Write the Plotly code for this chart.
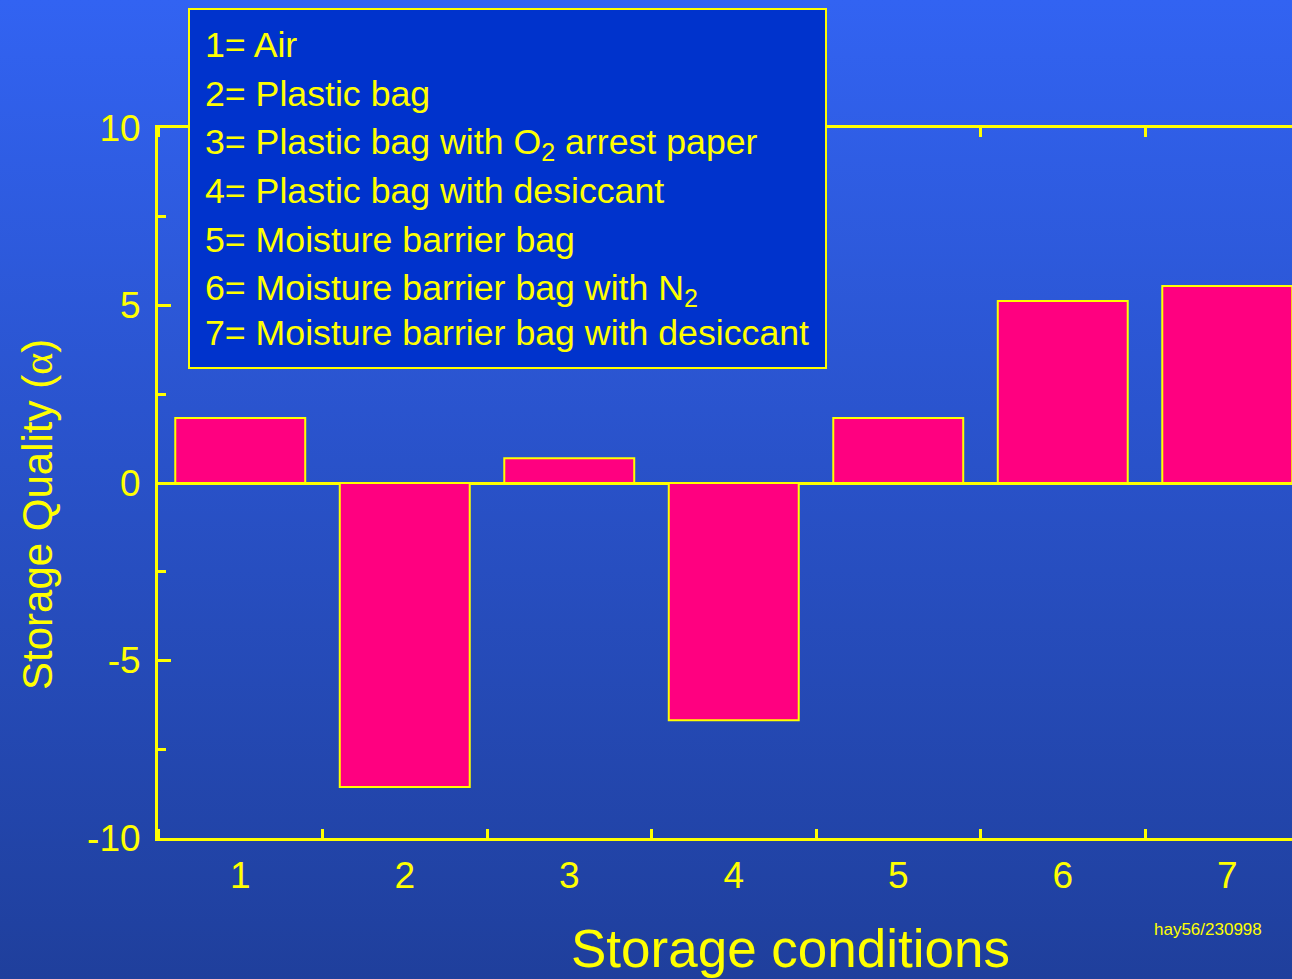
import base64
import plotly.graph_objects as go

# Storage quality index for each storage condition
conditions = [1, 2, 3, 4, 5, 6, 7]
tick_labels = ["1", "2", "3", "4", "5", "6", "7"]
quality = [1.83, -8.56, 0.70, -6.68, 1.83, 5.13, 5.55]

y_tick_values = [-10, -5, 0, 5, 10]
y_tick_labels = ["-10", "-5", "0", "5", "10"]

key_lines = [
    "1= Air",
    "2= Plastic bag",
    "3= Plastic bag with O<sub>2</sub> arrest paper",
    "4= Plastic bag with desiccant",
    "5= Moisture barrier bag",
    "6= Moisture barrier bag with N<sub>2</sub>",
    "7= Moisture barrier bag with desiccant",
]

YELLOW = "#FFFF00"
PINK = "#FF0080"
KEY_BG = "#0033CC"
FONT = "Liberation Sans, Arial, sans-serif"

W, H = 1292, 979
ML, MR, MT, MB = 158, 0, 128, 141
PW, PH = W - ML - MR, H - MT - MB
CAT_PX = 164.5  # pixel width of one category slot


def px_x(px):
    return (px - ML) / PW


def px_y(py):
    return 1 - (py - MT) / PH


# vertical background gradient as an svg image
svg = (
    '<svg xmlns="http://www.w3.org/2000/svg" width="100" height="100" preserveAspectRatio="none">'
    '<defs><linearGradient id="g" x1="0" y1="0" x2="0" y2="1">'
    '<stop offset="0" stop-color="#3263F2"/>'
    '<stop offset="1" stop-color="#1F3F9C"/>'
    '</linearGradient></defs>'
    '<rect width="100" height="100" fill="url(#g)"/></svg>'
)
bg_uri = "data:image/svg+xml;base64," + base64.b64encode(svg.encode()).decode()

fig = go.Figure()
fig.add_trace(go.Bar(
    x=conditions,
    y=quality,
    width=0.79,
    marker=dict(color=PINK, line=dict(color=YELLOW, width=2)),
    hoverinfo="x+y",
))

fig.update_layout(
    width=W,
    height=H,
    margin=dict(l=ML, r=MR, t=MT, b=MB, pad=0),
    paper_bgcolor="#2A52C8",
    plot_bgcolor="rgba(0,0,0,0)",
    showlegend=False,
    font=dict(family=FONT, color=YELLOW),
    images=[dict(
        source=bg_uri,
        xref="paper", yref="paper",
        x=px_x(0), y=px_y(0),
        sizex=W / PW, sizey=H / PH,
        xanchor="left", yanchor="top",
        sizing="stretch", layer="below",
    )],
    # key box, drawn above the top frame line
    shapes=[dict(
        type="rect",
        xref="paper", yref="paper",
        x0=px_x(189), x1=px_x(826),
        y0=px_y(368), y1=px_y(9),
        fillcolor=KEY_BG,
        line=dict(color=YELLOW, width=2),
        layer="above",
    )],
)

fig.update_xaxes(
    range=[0.5, 0.5 + PW / CAT_PX],
    tickvals=conditions,
    ticktext=tick_labels,
    ticks="",
    tickfont=dict(size=37, color=YELLOW, family=FONT),
    ticklabelstandoff=3,
    showline=True,
    linecolor=YELLOW,
    linewidth=3,
    mirror="ticks",
    showgrid=False,
    zeroline=False,
    minor=dict(tick0=0.5, dtick=1, ticks="inside", ticklen=9,
               tickwidth=3, tickcolor=YELLOW, showgrid=False),
)

fig.update_yaxes(
    range=[-10, 10],
    tickvals=y_tick_values,
    ticktext=y_tick_labels,
    ticks="inside",
    ticklen=13,
    tickwidth=3,
    tickcolor=YELLOW,
    tickfont=dict(size=37, color=YELLOW, family=FONT),
    ticklabelstandoff=7,
    showline=True,
    linecolor=YELLOW,
    linewidth=3,
    mirror=False,
    showgrid=False,
    zeroline=True,
    zerolinecolor=YELLOW,
    zerolinewidth=3,
    minor=dict(dtick=2.5, ticks="inside", ticklen=8, tickwidth=3,
               tickcolor=YELLOW, showgrid=False),
)

annotations = []

key_rows_px = [45, 94, 144, 191, 240, 290, 333]
for line, row in zip(key_lines, key_rows_px):
    annotations.append(dict(
        text=line,
        xref="paper", yref="paper",
        x=px_x(203), y=px_y(row),
        xanchor="left", yanchor="middle",
        font=dict(size=35.7, color=YELLOW, family=FONT),
        showarrow=False,
        align="left",
    ))

# axis titles
annotations.append(dict(
    text="Storage conditions",
    xref="paper", yref="paper",
    x=px_x(790), y=px_y(948),
    xanchor="center", yanchor="middle",
    font=dict(size=53, color=YELLOW, family=FONT),
    showarrow=False,
))
annotations.append(dict(
    text='Storage Quality (<span style="font-family:\'Liberation Serif\', serif">α</span>)',
    xref="paper", yref="paper",
    x=px_x(37), y=px_y(515),
    xanchor="center", yanchor="middle",
    textangle=-90,
    font=dict(size=42, color=YELLOW, family=FONT),
    showarrow=False,
))
annotations.append(dict(
    text="hay56/230998",
    xref="paper", yref="paper",
    x=px_x(1208), y=px_y(929),
    xanchor="center", yanchor="middle",
    font=dict(size=17, color=YELLOW, family=FONT),
    showarrow=False,
))

fig.update_layout(annotations=annotations)

fig.write_html("out.html")
